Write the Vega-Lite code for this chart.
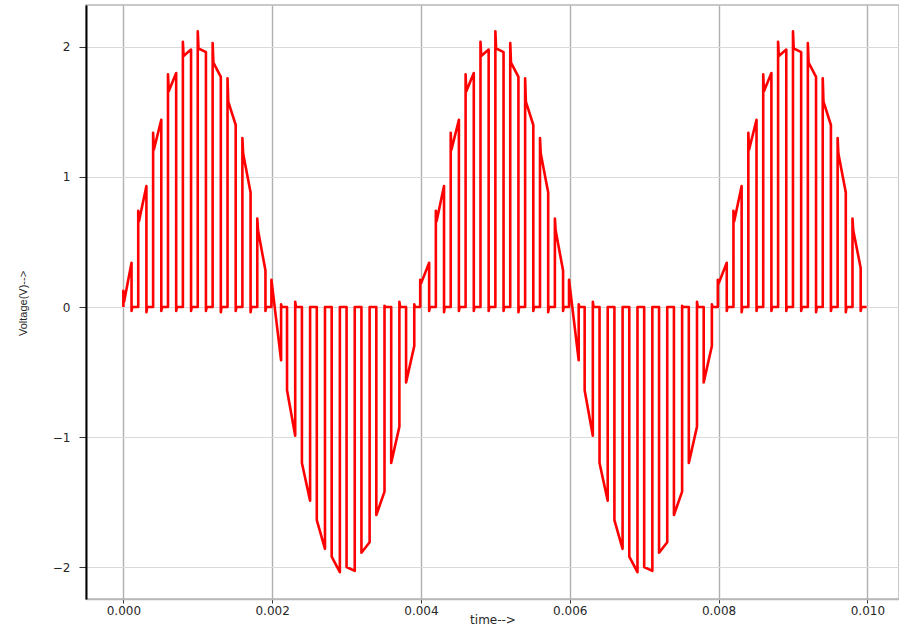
{
  "$schema": "https://vega.github.io/schema/vega-lite/v6.json",
  "width": 813,
  "height": 594,
  "autosize": "none",
  "padding": {"left": 86, "top": 5, "right": 0, "bottom": 33},
  "background": "white",
  "config": {
    "view": {"stroke": "#b8b8b8", "strokeWidth": 1.5},
    "axis": {"labelFont": "DejaVu Sans", "titleFont": "DejaVu Sans", "labelColor": "#262626", "titleColor": "#262626", "titleFontWeight": "normal"}
  },
  "data": {
    "values": [
      {"t":0,"v":0},{"t":0,"v":0.125},{"t":0.00001,"v":0.04},{"t":0.00011,"v":0.34},{"t":0.00011,"v":-0.03},{"t":0.00012,"v":0},
      {"t":0.0002,"v":0},{"t":0.0002,"v":0.74},{"t":0.00021,"v":0.66},{"t":0.00031,"v":0.93},{"t":0.00031,"v":-0.04},{"t":0.00032,"v":0},
      {"t":0.0004,"v":0},{"t":0.0004,"v":1.34},{"t":0.00041,"v":1.21},{"t":0.00051,"v":1.44},{"t":0.00051,"v":-0.03},{"t":0.00052,"v":0},
      {"t":0.0006,"v":0},{"t":0.0006,"v":1.79},{"t":0.00061,"v":1.66},{"t":0.00071,"v":1.80},{"t":0.00071,"v":-0.03},{"t":0.00072,"v":0},
      {"t":0.0008,"v":0},{"t":0.0008,"v":2.04},{"t":0.00081,"v":1.93},{"t":0.00091,"v":1.98},{"t":0.00091,"v":-0.03},{"t":0.00092,"v":0},
      {"t":0.001,"v":0},{"t":0.001,"v":2.12},{"t":0.00101,"v":1.99},{"t":0.00111,"v":1.96},{"t":0.00111,"v":-0.03},{"t":0.00112,"v":0},
      {"t":0.0012,"v":0},{"t":0.0012,"v":2.03},{"t":0.00121,"v":1.88},{"t":0.00131,"v":1.77},{"t":0.00131,"v":-0.04},{"t":0.00132,"v":0},
      {"t":0.0014,"v":0},{"t":0.0014,"v":1.76},{"t":0.00141,"v":1.58},{"t":0.00151,"v":1.40},{"t":0.00151,"v":-0.03},{"t":0.00152,"v":0},
      {"t":0.0016,"v":0},{"t":0.0016,"v":1.30},{"t":0.00161,"v":1.18},{"t":0.00171,"v":0.88},{"t":0.00171,"v":-0.04},{"t":0.00172,"v":0},
      {"t":0.0018,"v":0},{"t":0.0018,"v":0.68},{"t":0.00181,"v":0.59},{"t":0.00191,"v":0.28},{"t":0.00191,"v":-0.03},{"t":0.00192,"v":0},
      {"t":0.00199,"v":0},{"t":0.00199,"v":0.21},{"t":0.00212,"v":-0.41},{"t":0.00212,"v":0.02},{"t":0.00213,"v":0},
      {"t":0.0022,"v":0},{"t":0.0022,"v":-0.64},{"t":0.00231,"v":-0.99},{"t":0.00231,"v":0.04},{"t":0.00232,"v":0},
      {"t":0.0024,"v":0},{"t":0.0024,"v":-1.20},{"t":0.00251,"v":-1.49},{"t":0.00251,"v":0},
      {"t":0.0026,"v":0},{"t":0.0026,"v":-1.64},{"t":0.00271,"v":-1.86},{"t":0.00271,"v":0},
      {"t":0.0028,"v":0},{"t":0.0028,"v":-1.92},{"t":0.00291,"v":-2.04},{"t":0.00291,"v":0},
      {"t":0.003,"v":0},{"t":0.003,"v":-2.0},{"t":0.00311,"v":-2.03},{"t":0.00311,"v":0},
      {"t":0.0032,"v":0},{"t":0.0032,"v":-1.89},{"t":0.00331,"v":-1.81},{"t":0.00331,"v":0},
      {"t":0.0034,"v":0},{"t":0.0034,"v":-1.60},{"t":0.00351,"v":-1.42},{"t":0.00351,"v":0.01},{"t":0.00352,"v":0},
      {"t":0.0036,"v":0},{"t":0.0036,"v":-1.20},{"t":0.00371,"v":-0.92},{"t":0.00371,"v":0.04},{"t":0.00372,"v":0},
      {"t":0.0038,"v":0},{"t":0.0038,"v":-0.58},{"t":0.00391,"v":-0.30},{"t":0.00391,"v":0.02},{"t":0.00392,"v":0},
      {"t":0.00399,"v":0},{"t":0.00399,"v":0.21},{"t":0.004,"v":0.18},{"t":0.00411,"v":0.34},{"t":0.00411,"v":-0.03},{"t":0.00412,"v":0},
      {"t":0.0042,"v":0},{"t":0.0042,"v":0.74},{"t":0.00421,"v":0.66},{"t":0.00431,"v":0.93},{"t":0.00431,"v":-0.04},{"t":0.00432,"v":0},
      {"t":0.0044,"v":0},{"t":0.0044,"v":1.34},{"t":0.00441,"v":1.21},{"t":0.00451,"v":1.44},{"t":0.00451,"v":-0.03},{"t":0.00452,"v":0},
      {"t":0.0046,"v":0},{"t":0.0046,"v":1.79},{"t":0.00461,"v":1.66},{"t":0.00471,"v":1.80},{"t":0.00471,"v":-0.03},{"t":0.00472,"v":0},
      {"t":0.0048,"v":0},{"t":0.0048,"v":2.04},{"t":0.00481,"v":1.93},{"t":0.00491,"v":1.98},{"t":0.00491,"v":-0.03},{"t":0.00492,"v":0},
      {"t":0.005,"v":0},{"t":0.005,"v":2.12},{"t":0.00501,"v":1.99},{"t":0.00511,"v":1.96},{"t":0.00511,"v":-0.03},{"t":0.00512,"v":0},
      {"t":0.0052,"v":0},{"t":0.0052,"v":2.03},{"t":0.00521,"v":1.88},{"t":0.00531,"v":1.77},{"t":0.00531,"v":-0.04},{"t":0.00532,"v":0},
      {"t":0.0054,"v":0},{"t":0.0054,"v":1.76},{"t":0.00541,"v":1.58},{"t":0.00551,"v":1.40},{"t":0.00551,"v":-0.03},{"t":0.00552,"v":0},
      {"t":0.0056,"v":0},{"t":0.0056,"v":1.30},{"t":0.00561,"v":1.18},{"t":0.00571,"v":0.88},{"t":0.00571,"v":-0.04},{"t":0.00572,"v":0},
      {"t":0.0058,"v":0},{"t":0.0058,"v":0.68},{"t":0.00581,"v":0.59},{"t":0.00591,"v":0.28},{"t":0.00591,"v":-0.03},{"t":0.00592,"v":0},
      {"t":0.00599,"v":0},{"t":0.00599,"v":0.21},{"t":0.00612,"v":-0.41},{"t":0.00612,"v":0.02},{"t":0.00613,"v":0},
      {"t":0.0062,"v":0},{"t":0.0062,"v":-0.64},{"t":0.00631,"v":-0.99},{"t":0.00631,"v":0.04},{"t":0.00632,"v":0},
      {"t":0.0064,"v":0},{"t":0.0064,"v":-1.20},{"t":0.00651,"v":-1.49},{"t":0.00651,"v":0},
      {"t":0.0066,"v":0},{"t":0.0066,"v":-1.64},{"t":0.00671,"v":-1.86},{"t":0.00671,"v":0},
      {"t":0.0068,"v":0},{"t":0.0068,"v":-1.92},{"t":0.00691,"v":-2.04},{"t":0.00691,"v":0},
      {"t":0.007,"v":0},{"t":0.007,"v":-2.0},{"t":0.00711,"v":-2.03},{"t":0.00711,"v":0},
      {"t":0.0072,"v":0},{"t":0.0072,"v":-1.89},{"t":0.00731,"v":-1.81},{"t":0.00731,"v":0},
      {"t":0.0074,"v":0},{"t":0.0074,"v":-1.60},{"t":0.00751,"v":-1.42},{"t":0.00751,"v":0.01},{"t":0.00752,"v":0},
      {"t":0.0076,"v":0},{"t":0.0076,"v":-1.20},{"t":0.00771,"v":-0.92},{"t":0.00771,"v":0.04},{"t":0.00772,"v":0},
      {"t":0.0078,"v":0},{"t":0.0078,"v":-0.58},{"t":0.00791,"v":-0.30},{"t":0.00791,"v":0.02},{"t":0.00792,"v":0},
      {"t":0.00799,"v":0},{"t":0.00799,"v":0.21},{"t":0.008,"v":0.18},{"t":0.00811,"v":0.34},{"t":0.00811,"v":-0.03},{"t":0.00812,"v":0},
      {"t":0.0082,"v":0},{"t":0.0082,"v":0.74},{"t":0.00821,"v":0.66},{"t":0.00831,"v":0.93},{"t":0.00831,"v":-0.04},{"t":0.00832,"v":0},
      {"t":0.0084,"v":0},{"t":0.0084,"v":1.34},{"t":0.00841,"v":1.21},{"t":0.00851,"v":1.44},{"t":0.00851,"v":-0.03},{"t":0.00852,"v":0},
      {"t":0.0086,"v":0},{"t":0.0086,"v":1.79},{"t":0.00861,"v":1.66},{"t":0.00871,"v":1.80},{"t":0.00871,"v":-0.03},{"t":0.00872,"v":0},
      {"t":0.0088,"v":0},{"t":0.0088,"v":2.04},{"t":0.00881,"v":1.93},{"t":0.00891,"v":1.98},{"t":0.00891,"v":-0.03},{"t":0.00892,"v":0},
      {"t":0.009,"v":0},{"t":0.009,"v":2.12},{"t":0.00901,"v":1.99},{"t":0.00911,"v":1.96},{"t":0.00911,"v":-0.03},{"t":0.00912,"v":0},
      {"t":0.0092,"v":0},{"t":0.0092,"v":2.03},{"t":0.00921,"v":1.88},{"t":0.00931,"v":1.77},{"t":0.00931,"v":-0.04},{"t":0.00932,"v":0},
      {"t":0.0094,"v":0},{"t":0.0094,"v":1.76},{"t":0.00941,"v":1.58},{"t":0.00951,"v":1.40},{"t":0.00951,"v":-0.03},{"t":0.00952,"v":0},
      {"t":0.0096,"v":0},{"t":0.0096,"v":1.30},{"t":0.00961,"v":1.18},{"t":0.00971,"v":0.88},{"t":0.00971,"v":-0.04},{"t":0.00972,"v":0},
      {"t":0.0098,"v":0},{"t":0.0098,"v":0.68},{"t":0.00981,"v":0.59},{"t":0.00991,"v":0.30},{"t":0.00991,"v":-0.03},{"t":0.00992,"v":0},
      {"t":0.00999,"v":0}
    ]
  },
  "mark": {"type": "line", "color": "#ff0000", "strokeWidth": 2.6, "strokeJoin": "round", "clip": true},
  "encoding": {
    "x": {
      "field": "t", "type": "quantitative",
      "scale": {"domain": [-0.000502, 0.010425], "nice": false, "zero": false},
      "axis": {
        "values": [0, 0.002, 0.004, 0.006, 0.008, 0.01],
        "format": ".3f",
        "title": "time-->",
        "titleFontSize": 12,
        "titleY": 24,
        "titleBaseline": "alphabetic",
        "labelFontSize": 12,
        "labelPadding": 2,
        "labelFlush": false,
        "tickSize": 4,
        "tickColor": "#333333",
        "domainColor": "#b8b8b8",
        "domainWidth": 1.5,
        "gridColor": "#b0b0b0",
        "gridWidth": 1.4
      }
    },
    "y": {
      "field": "v", "type": "quantitative",
      "scale": {"domain": [-2.246, 2.323], "nice": false, "zero": false},
      "axis": {
        "values": [-2, -1, 0, 1, 2],
        "format": "d",
        "title": "Voltage(V)-->",
        "titleFont": "Liberation Sans Narrow, Liberation Sans",
        "titleFontSize": 11,
        "titleAngle": -90,
        "titleX": -63,
        "titleY": 298,
        "titleAlign": "center",
        "titleBaseline": "middle",
        "labelFontSize": 12,
        "labelPadding": 9,
        "tickSize": 7,
        "tickColor": "#333333",
        "domainColor": "#000000",
        "domainWidth": 2,
        "gridColor": "#dadada",
        "gridWidth": 1
      }
    },
    "order": {"value": null}
  }
}
